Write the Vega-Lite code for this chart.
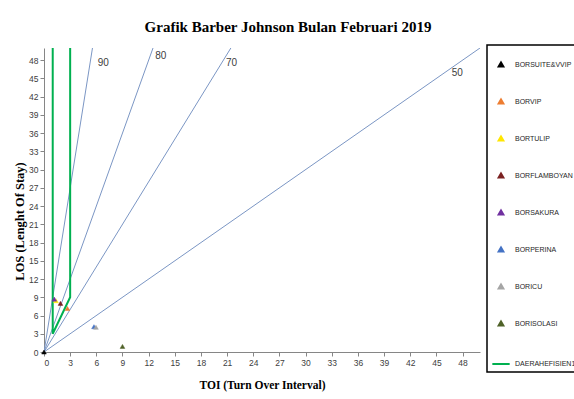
{
  "$schema": "https://vega.github.io/schema/vega-lite/v6.json",
  "width": 436,
  "height": 304,
  "autosize": "none",
  "padding": {"left": 44, "top": 48, "right": 94, "bottom": 47},
  "background": "white",
  "title": {
    "text": "Grafik Barber Johnson Bulan Februari 2019",
    "font": "Liberation Serif",
    "fontSize": 15,
    "fontWeight": "bold",
    "color": "#000000",
    "anchor": "middle",
    "dx": 26,
    "baseline": "alphabetic",
    "offset": -3
  },
  "config": {
    "view": {"stroke": null},
    "axis": {
      "grid": false,
      "domainColor": "#868686",
      "tickColor": "#868686",
      "tickSize": 4,
      "labelOverlap": false,
      "labelFont": "Liberation Sans",
      "labelFontSize": 8.5,
      "labelColor": "#404040",
      "titleFont": "Liberation Serif",
      "titleFontWeight": "bold",
      "titleColor": "#000000"
    },
    "legend": {
      "orient": "none",
      "legendX": 443,
      "legendY": -3,
      "strokeColor": "#000000",
      "strokeWidth": 1.5,
      "padding": 4,
      "labelFont": "Liberation Sans",
      "labelFontSize": 7,
      "labelColor": "#262626",
      "labelOffset": 4,
      "rowPadding": 24,
      "symbolStrokeWidth": 2,
      "titleFontSize": 10,
      "titlePadding": 2
    }
  },
  "datasets": {
    "bor": [
      {"bor": "90", "toi": 0, "los": 0}, {"bor": "90", "toi": 5.56, "los": 50},
      {"bor": "80", "toi": 0, "los": 0}, {"bor": "80", "toi": 12.5, "los": 50},
      {"bor": "70", "toi": 0, "los": 0}, {"bor": "70", "toi": 21.43, "los": 50},
      {"bor": "50", "toi": 0, "los": 0}, {"bor": "50", "toi": 50, "los": 50}
    ],
    "borlabels": [
      {"bor": "90", "toi": 6.8, "los": 47.5},
      {"bor": "80", "toi": 13.4, "los": 48.7},
      {"bor": "70", "toi": 21.5, "los": 47.5},
      {"bor": "50", "toi": 47.4, "los": 45.9}
    ],
    "efisien": [
      {"series": "DAERAHEFISIEN1", "o": 1, "toi": 1, "los": 50},
      {"series": "DAERAHEFISIEN1", "o": 2, "toi": 1, "los": 3},
      {"series": "DAERAHEFISIEN1", "o": 3, "toi": 3, "los": 9},
      {"series": "DAERAHEFISIEN1", "o": 4, "toi": 3, "los": 50}
    ],
    "rooms": [
      {"series": "BORSUITE&VVIP", "toi": 0, "los": 0},
      {"series": "BORVIP", "toi": 2.69, "los": 7.16},
      {"series": "BORTULIP", "toi": 1.37, "los": 8.44},
      {"series": "BORFLAMBOYAN", "toi": 1.89, "los": 8.0},
      {"series": "BORSAKURA", "toi": 1.18, "los": 8.7},
      {"series": "BORPERINA", "toi": 5.73, "los": 4.16},
      {"series": "BORICU", "toi": 5.96, "los": 4.06},
      {"series": "BORISOLASI", "toi": 9.0, "los": 0.92}
    ]
  },
  "encoding": {
    "x": {"field": "toi", "type": "quantitative", "scale": {"domain": [0, 50], "nice": false},
          "axis": {"values": [0,3,6,9,12,15,18,21,24,27,30,33,36,39,42,45,48], "labelOverlap": false, "title": "TOI (Turn Over Interval)", "titleFontSize": 11.5, "titlePadding": 13}},
    "y": {"field": "los", "type": "quantitative", "scale": {"domain": [0, 50], "nice": false},
          "axis": {"values": [0,3,6,9,12,15,18,21,24,27,30,33,36,39,42,45,48], "labelOverlap": false, "title": "LOS (Lenght Of Stay)", "titleFontSize": 12.5, "titleX": -18, "titleY": 173}}
  },
  "layer": [
    {
      "data": {"name": "bor"},
      "mark": {"type": "line", "color": "#7b96c4", "strokeWidth": 1, "clip": true},
      "encoding": {
        "detail": {"field": "bor", "type": "nominal"}
      }
    },
    {
      "data": {"name": "borlabels"},
      "mark": {"type": "text", "font": "Liberation Sans", "fontSize": 10, "color": "#404040"},
      "encoding": {
        "text": {"field": "bor", "type": "nominal"}
      }
    },
    {
      "data": {"name": "efisien"},
      "mark": {"type": "line", "strokeWidth": 2, "clip": true},
      "encoding": {
        "order": {"field": "o", "type": "quantitative"},
        "stroke": {"field": "series", "type": "nominal", "title": " ",
          "scale": {"domain": ["BORSUITE&VVIP","BORVIP","BORTULIP","BORFLAMBOYAN","BORSAKURA","BORPERINA","BORICU","BORISOLASI","DAERAHEFISIEN1"],
                    "range": ["#000000","#ed7d31","#ffe600","#7b2222","#7030a0","#4472c4","#a5a5a5","#4f6228","#00b050"]}}
      }
    },
    {
      "data": {"name": "rooms"},
      "mark": {"type": "point", "filled": true, "strokeWidth": 0.5, "opacity": 1},
      "encoding": {
        "fill": {"field": "series", "type": "nominal", "title": " ",
          "scale": {"domain": ["BORSUITE&VVIP","BORVIP","BORTULIP","BORFLAMBOYAN","BORSAKURA","BORPERINA","BORICU","BORISOLASI","DAERAHEFISIEN1"],
                    "range": ["#000000","#ed7d31","#ffe600","#7b2222","#7030a0","#4472c4","#a5a5a5","#4f6228","#00b050"]}},
        "stroke": {"field": "series", "type": "nominal", "title": " "},
        "shape": {"field": "series", "type": "nominal", "title": " ",
          "scale": {"domain": ["BORSUITE&VVIP","BORVIP","BORTULIP","BORFLAMBOYAN","BORSAKURA","BORPERINA","BORICU","BORISOLASI","DAERAHEFISIEN1"],
                    "range": ["triangle-up","triangle-up","triangle-up","triangle-up","triangle-up","triangle-up","triangle-up","triangle-up","stroke"]}},
        "size": {"field": "series", "type": "nominal", "title": " ",
          "scale": {"type": "ordinal", "domain": ["BORSUITE&VVIP","BORVIP","BORTULIP","BORFLAMBOYAN","BORSAKURA","BORPERINA","BORICU","BORISOLASI","DAERAHEFISIEN1"],
                    "range": [22,22,22,22,22,22,22,22,300]}}
      }
    }
  ]
}
